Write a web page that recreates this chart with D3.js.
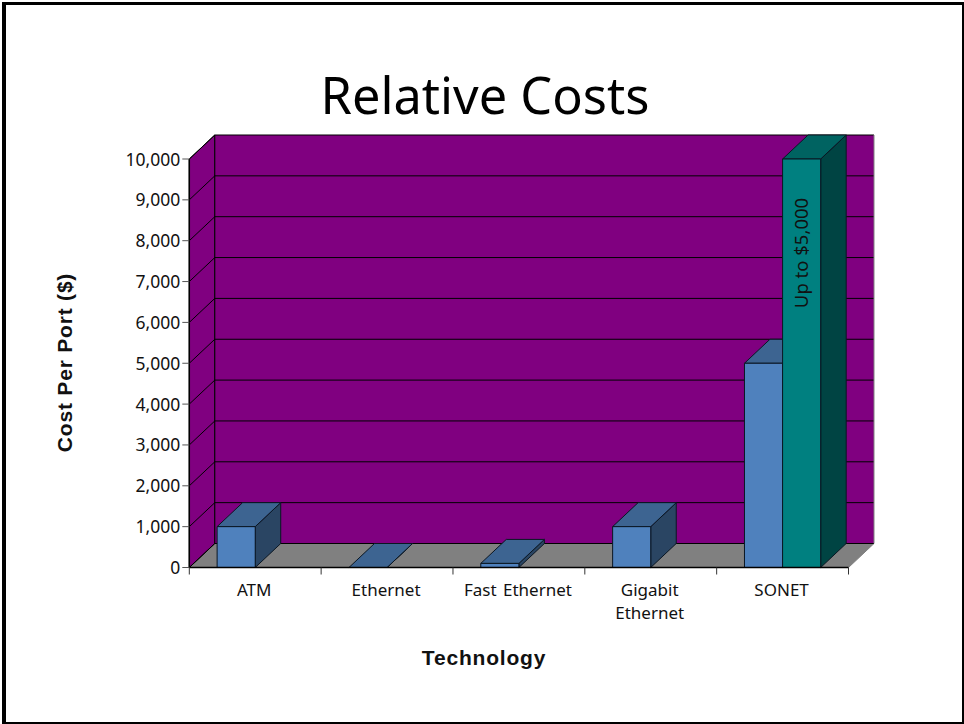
<!DOCTYPE html>
<html>
<head>
<meta charset="utf-8">
<script src="https://cdn.jsdelivr.net/npm/d3@7"></script>
<style>
  html, body { margin: 0; padding: 0; background: #fff; }
  svg { display: block; }
  text { fill: #111; font-family: "Noto Sans", sans-serif; }
</style>
</head>
<body>
<svg id="chart" width="964" height="724"></svg>
<script>
// values
var categories = ["ATM", "Ethernet", "Fast Ethernet", "Gigabit Ethernet", "SONET"];
var seriesNames = ["low", "high"];
var lowValues = [1000, 0, 100, 1000, 5000];
var highValues = [null, null, null, null, 10000];
var yTicks = [0, 1000, 2000, 3000, 4000, 5000, 6000, 7000, 8000, 9000, 10000];

var svg = d3.select("#chart");

// front plane of the 3D box, and how far back it goes
var left = 189.3, right = 848.5, bottom = 567.5, top_ = 159;
var depthX = 25.5, depthY = 24;

var x = d3.scaleBand().domain(categories).range([left, right]);
var xInner = d3.scaleBand().domain(seriesNames).range([0, x.bandwidth()]).paddingOuter(0.73).paddingInner(0);
var y = d3.scaleLinear().domain([0, 10000]).range([bottom, top_]);
var fmt = d3.format(",");

function pts(list) {
  return list.map(function (p) { return p.join(","); }).join(" ");
}

// page frame, the edges are not the same thickness in the reference
svg.append("rect").attr("x", 2).attr("y", 2).attr("width", 962).attr("height", 722).attr("fill", "#000");
svg.append("rect").attr("x", 6).attr("y", 5).attr("width", 956).attr("height", 717).attr("fill", "#fff");

svg.append("text").attr("x", 485).attr("y", 114).attr("text-anchor", "middle")
  .style("font-size", "50.5px").style("fill", "#000").text("Relative Costs");

// floor
svg.append("polygon")
  .attr("points", pts([[left, bottom], [right, bottom], [right + depthX, bottom - depthY], [left + depthX, bottom - depthY]]))
  .attr("fill", "#808080").attr("stroke", "#808080");

// side wall
svg.append("polygon")
  .attr("points", pts([[left, bottom], [left, top_], [left + depthX, top_ - depthY], [left + depthX, bottom - depthY]]))
  .attr("fill", "#800080").attr("stroke", "#000");

// back wall
svg.append("rect")
  .attr("x", left + depthX).attr("y", top_ - depthY)
  .attr("width", right - left).attr("height", bottom - top_)
  .attr("fill", "#800080");

// gridlines on both walls
var grid = svg.append("g").attr("stroke", "#000").attr("stroke-width", 1).attr("fill", "none");
yTicks.forEach(function (t) {
  grid.append("polyline").attr("points", pts([
    [left, y(t)],
    [left + depthX, y(t) - depthY],
    [right + depthX, y(t) - depthY]
  ]));
});
grid.append("line")
  .attr("x1", left + depthX).attr("x2", left + depthX)
  .attr("y1", top_ - depthY).attr("y2", bottom - depthY);
svg.append("line")
  .attr("x1", right + depthX).attr("x2", right + depthX)
  .attr("y1", top_ - depthY).attr("y2", bottom - depthY)
  .attr("stroke", "#808080");

// bars
function drawBar(x0, w, value, front, topC, sideC) {
  var yTop = y(value);
  var g = svg.append("g").attr("stroke", "#0a1622").attr("stroke-width", 1).attr("stroke-linejoin", "round");
  g.append("polygon").attr("fill", sideC).attr("points", pts([
    [x0 + w, bottom], [x0 + w, yTop], [x0 + w + depthX, yTop - depthY], [x0 + w + depthX, bottom - depthY]
  ]));
  g.append("polygon").attr("fill", topC).attr("points", pts([
    [x0, yTop], [x0 + w, yTop], [x0 + w + depthX, yTop - depthY], [x0 + depthX, yTop - depthY]
  ]));
  g.append("rect").attr("x", x0).attr("y", yTop).attr("width", w).attr("height", bottom - yTop).attr("fill", front);
}

categories.forEach(function (c, i) {
  if (lowValues[i] !== null) {
    drawBar(x(c) + xInner("low"), xInner.bandwidth(), lowValues[i], "#4f81bd", "#3d6491", "#2a4563");
  }
  if (highValues[i] !== null) {
    drawBar(x(c) + xInner("high"), xInner.bandwidth(), highValues[i], "#008080", "#006361", "#004443");
  }
});

// baseline and y axis line
var axes = svg.append("g").attr("stroke", "#000").attr("stroke-width", 1.5);
axes.append("line").attr("x1", left).attr("x2", right).attr("y1", bottom).attr("y2", bottom);
axes.append("line").attr("x1", left).attr("x2", left).attr("y1", top_).attr("y2", bottom);

// y ticks
var yTickG = svg.append("g");
yTicks.forEach(function (t) {
  yTickG.append("line").attr("x1", left - 7).attr("x2", left).attr("y1", y(t)).attr("y2", y(t)).attr("stroke", "#555").attr("stroke-width", 1);
  yTickG.append("text").attr("x", left - 9).attr("y", y(t) + 6.5).attr("text-anchor", "end")
    .style("font-size", "17.5px").text(fmt(t));
});

// x ticks sit on the band edges
var xEdges = categories.map(function (c) { return x(c); }).concat([right]);
xEdges.forEach(function (e) {
  svg.append("line").attr("x1", e).attr("x2", e).attr("y1", bottom).attr("y2", bottom + 7).attr("stroke", "#333");
});

// category labels, wrapped as in the reference
var labelLines = { "Gigabit Ethernet": ["Gigabit", "Ethernet"] };
categories.forEach(function (c) {
  var lines = labelLines[c] || [c];
  lines.forEach(function (line, i) {
    svg.append("text").attr("x", x(c) + x.bandwidth() / 2 - 1).attr("y", 596 + i * 23)
      .attr("text-anchor", "middle").style("font-size", "17px").style("word-spacing", "2px").text(line);
  });
});

// note inside the tall bar
var noteX = x("SONET") + xInner("high") + xInner.bandwidth() / 2 + 6.5;
svg.append("text").attr("transform", "translate(" + noteX + ",253) rotate(-90)")
  .attr("text-anchor", "middle").style("font-size", "18.5px").text("Up to $5,000");

// axis titles
svg.append("text").attr("x", 484).attr("y", 665).attr("text-anchor", "middle")
  .style("font-family", "'Liberation Sans', sans-serif").style("font-weight", "bold")
  .style("font-size", "21px").style("letter-spacing", "0.8px").text("Technology");
svg.append("text").attr("transform", "translate(72,362.5) rotate(-90)").attr("text-anchor", "middle")
  .style("font-family", "'Liberation Sans', sans-serif").style("font-weight", "bold")
  .style("font-size", "21px").style("letter-spacing", "0.8px").text("Cost Per Port ($)");
</script>
</body>
</html>
